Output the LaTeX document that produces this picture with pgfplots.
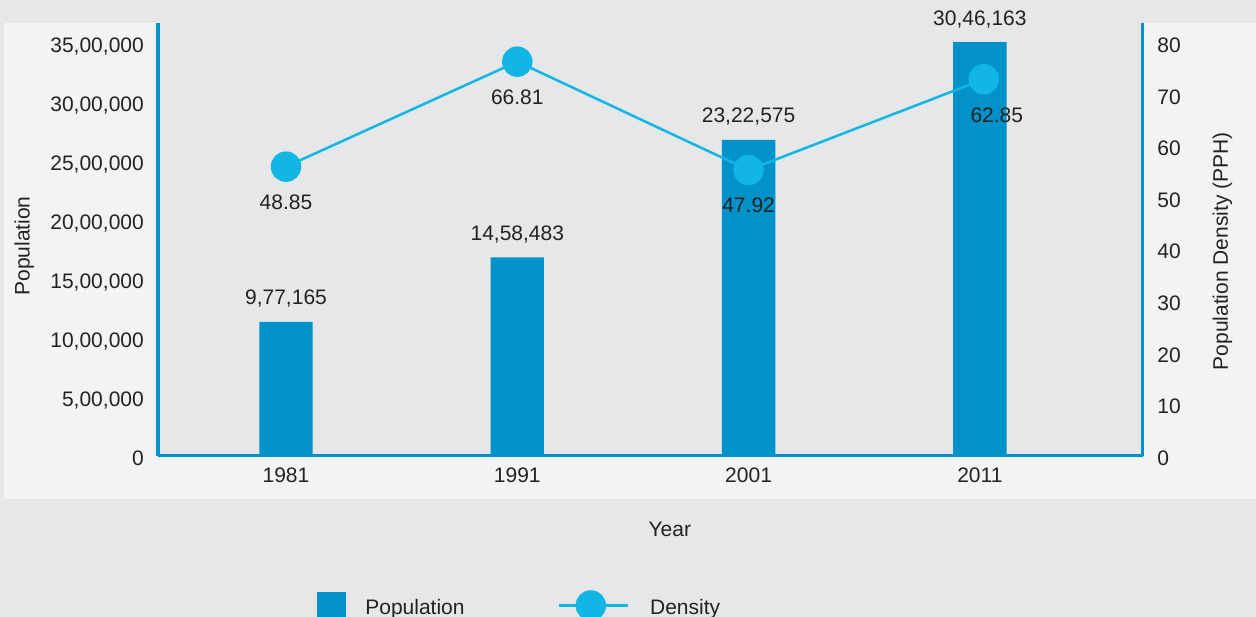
\documentclass[border=0pt]{standalone}
\usepackage{pgfplots}
\pgfplotsset{compat=1.18}
\usepackage{fontspec}
\setmainfont{Liberation Sans}

\definecolor{bggray}{RGB}{230,231,233}
\definecolor{panel}{RGB}{242,244,243}
\definecolor{barblue}{RGB}{0,146,200}
\definecolor{lineblue}{RGB}{18,182,228}
\definecolor{ink}{RGB}{34,34,34}
\newcommand\chartfont{\fontsize{21}{25}\selectfont}

% bar heights and marker heights are as drawn; the labels are the printed values
\pgfplotstableread{
x y label
0 1135600 9,77,165
1 1684000 14,58,483
2 2678000 23,22,575
3 3508000 30,46,163
}\popdata
\pgfplotstableread{
x y label
0 56.04 48.85
1 76.38 66.81
2 55.40 47.92
3.017 72.97 62.85
}\densdata

\pgfplotsset{
  common/.style={
    scale only axis, width=984.7pt, height=433pt,
    at={(158pt,161pt)}, anchor=south west,
    xmin=-0.5534, xmax=3.704, ymin=0,
    axis line style={barblue, line width=3pt},
    major tick length=0pt,
    clip=false,
    /pgf/number format/assume math mode=true,
    tick label style={font=\chartfont, text=ink},
    label style={font=\chartfont, text=ink},
  }
}

\begin{document}
\begin{tikzpicture}[font=\chartfont, text=ink]
\useasboundingbox (0,0) rectangle (1256pt,617pt);
\clip (0,0) rectangle (1256pt,617pt);
\fill[bggray] (0,0) rectangle (1256pt,617pt);
\fill[panel] (4pt,118pt) rectangle (1256pt,594pt);
\fill[bggray] (158pt,161pt) rectangle (1142.7pt,617pt);

\begin{axis}[common,
  axis x line*=bottom, axis y line*=left,
  ymax=3669500,
  xtick={0,1,2,3}, xticklabels={1981,1991,2001,2011},
  xticklabel style={anchor=base, inner sep=0pt, yshift=-27pt},
  ytick={0,500000,1000000,1500000,2000000,2500000,3000000,3500000},
  yticklabels={0,{5,00,000},{10,00,000},{15,00,000},{20,00,000},{25,00,000},{30,00,000},{35,00,000}},
  scaled y ticks=false,
  yticklabel style={anchor=base east, inner sep=0pt, xshift=-14pt, yshift=-9.5pt},
  ylabel={Population},
  ylabel style={at={(axis description cs:-0.136,0.485)}, anchor=center},
  xlabel={Year},
  xlabel style={at={(axis description cs:0.5198,-0.187)}, anchor=base},
  ybar, bar width=53.4pt,
]
\addplot[fill=barblue, draw=none,
  nodes near coords, point meta=explicit symbolic,
  nodes near coords style={anchor=base, inner sep=0pt, yshift=17pt, font=\chartfont, text=ink}]
  table[x=x, y=y, meta=label] {\popdata};
\end{axis}

\begin{axis}[common,
  axis y line*=right, axis x line=none,
  ymax=83.87,
  ytick={0,10,...,80},
  yticklabel style={anchor=base west, inner sep=0pt, xshift=14.5pt, yshift=-9.5pt},
  ylabel={Population Density (PPH)},
  ylabel style={at={(axis description cs:1.081,0.473)}, anchor=center},
  legend style={draw=none, fill=none, inner sep=0pt, outer sep=0pt,
    font=\chartfont, text=ink,
    at={(axis description cs:0.1614,-0.310)}, anchor=north west,
    legend columns=2, cells={anchor=base west}, nodes={inner sep=0pt},
    /tikz/column 1/.style={column sep=20pt},
    /tikz/column 2/.style={column sep=93pt},
    /tikz/column 3/.style={column sep=21pt}},
]
\addlegendimage{legend image code/.code={\fill[barblue] (0pt,-6pt) rectangle (28pt,22pt);}}
\addlegendentry{Population}
\addplot[lineblue, line width=2.5pt, mark=*, mark size=14pt,
  mark options={draw=none, fill=lineblue},
  legend image code/.code={
    \draw[lineblue, line width=2.5pt] (0pt,8.7pt) -- (69pt,8.7pt);
    \fill[lineblue] (32pt,8.7pt) circle (14pt);},
  nodes near coords, point meta=explicit symbolic,
  nodes near coords style={anchor=base, inner sep=0pt, yshift=-43pt, font=\chartfont, text=ink},
  coordinate style/.condition={\coordindex==3}{xshift=13pt}]
  table[x=x, y=y, meta=label] {\densdata};
\addlegendentry{Density}
\end{axis}
\end{tikzpicture}
\end{document}
